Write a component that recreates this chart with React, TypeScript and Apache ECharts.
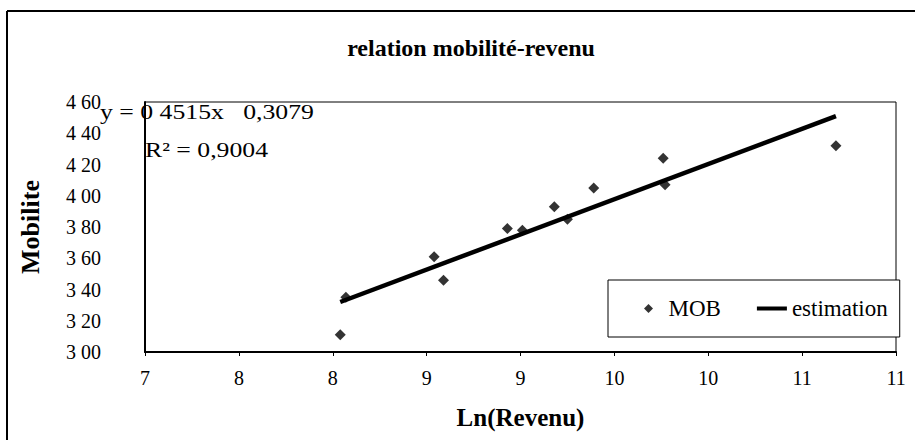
import React, { useEffect, useRef } from 'react';
import * as echarts from 'echarts';

const lnRevenu = [8.04, 8.07, 8.54, 8.59, 8.93, 9.01, 9.18, 9.25, 9.39, 9.76, 9.77, 10.68];
const mobilite = [3.11, 3.35, 3.61, 3.46, 3.79, 3.78, 3.93, 3.85, 4.05, 4.24, 4.07, 4.32];
const estimationX = [8.04, 10.68];
const estimationY = [3.32, 4.51];
const xTickLabels = ['7', '8', '8', '9', '9', '10', '10', '11', '11'];
const yTickLabels = ['3 00', '3 20', '3 40', '3 60', '3 80', '4 00', '4 20', '4 40', '4 60'];
const titleText = 'relation mobilité-revenu';
const equationText = 'y = 0 4515x   0,3079';
const r2Text = 'R² = 0,9004';

export default function App() {
  const ref = useRef<HTMLDivElement>(null);
  useEffect(() => {
    const chart = echarts.init(ref.current!, null, { renderer: 'svg' });
    const serif = '"Liberation Serif", "Times New Roman", serif';
    chart.setOption({
      animation: false,
      backgroundColor: '#ffffff',
      title: {
        text: titleText,
        left: 466,
        top: 31,
        textAlign: 'center',
        textStyle: { fontFamily: serif, fontSize: 24, fontWeight: 'bold', color: '#000' },
      },
      grid: { left: 145, right: 19, top: 102, bottom: 93, show: true, borderColor: '#000', borderWidth: 1, backgroundColor: 'transparent' },
      xAxis: {
        type: 'value',
        min: 7,
        max: 11,
        interval: 0.5,
        name: 'Ln(Revenu)',
        nameLocation: 'middle',
        nameGap: 53,
        nameTextStyle: { fontFamily: serif, fontSize: 25, fontWeight: 'bold', color: '#000' },
        axisLine: { show: true, lineStyle: { color: '#000', width: 2 } },
        axisTick: { show: true, length: 4, lineStyle: { color: '#000', width: 1 } },
        axisLabel: {
          margin: 16,
          fontFamily: serif,
          fontSize: 20,
          color: '#000',
          formatter: (v: number) => xTickLabels[Math.round((v - 7) / 0.5)] ?? '',
        },
        splitLine: { show: false },
      },
      yAxis: {
        type: 'value',
        min: 3,
        max: 4.6,
        interval: 0.2,
        name: 'Mobilite',
        nameLocation: 'middle',
        nameRotate: 90,
        nameGap: 102,
        nameTextStyle: { fontFamily: serif, fontSize: 26, fontWeight: 'bold', color: '#000' },
        axisLine: { show: true, lineStyle: { color: '#000', width: 2 } },
        axisTick: { show: false },
        axisLabel: {
          margin: 44,
          fontFamily: serif,
          fontSize: 20,
          color: '#000',
          formatter: (v: number) => yTickLabels[Math.round((v - 3) / 0.2)] ?? '',
        },
        splitLine: { show: false },
      },
      legend: {
        left: 608,
        top: 280,
        orient: 'horizontal',
        padding: [17, 12, 17, 36],
        borderColor: '#000',
        borderWidth: 1,
        backgroundColor: '#fff',
        itemGap: 36,
        itemWidth: 30,
        itemHeight: 9,
        symbolKeepAspect: true,
        textStyle: { fontFamily: serif, fontSize: 23, color: '#000' },
        data: [
          { name: 'MOB', icon: 'path://M5,0L10,5L5,10L0,5Z' },
          { name: 'estimation', icon: 'path://M0,0H30V4H0Z' },
        ],
      },
      series: [
        {
          name: 'MOB',
          type: 'scatter',
          data: lnRevenu.map((x, i) => [x, mobilite[i]]),
          symbol: 'diamond',
          symbolSize: 11,
          itemStyle: { color: '#000' },
          z: 3,
        },
        {
          name: 'estimation',
          type: 'line',
          data: estimationX.map((x, i) => [x, estimationY[i]]),
          showSymbol: false,
          symbol: 'none',
          lineStyle: { color: '#000', width: 4.5 },
          itemStyle: { color: '#000' },
          z: 2,
        },
      ],
      graphic: [
        { type: 'line', shape: { x1: 7, y1: 11, x2: 7, y2: 440 }, style: { stroke: '#000', lineWidth: 2 } },
        { type: 'line', shape: { x1: 7, y1: 11, x2: 915, y2: 11 }, style: { stroke: '#000', lineWidth: 2 } },
        {
          type: 'text',
          x: 100,
          y: 112,
          scaleX: 1.17,
          z: 10,
          style: { text: equationText, font: `22px ${serif}`, fill: '#000', verticalAlign: 'middle' },
        },
        {
          type: 'text',
          x: 145,
          y: 150,
          scaleX: 1.17,
          z: 10,
          style: { text: r2Text, font: `22px ${serif}`, fill: '#000', verticalAlign: 'middle' },
        },
      ],
    });
    return () => chart.dispose();
  }, []);
  return <div ref={ref} style={{ position: 'fixed', left: 0, top: 0, width: 915, height: 445 }} />;
}
